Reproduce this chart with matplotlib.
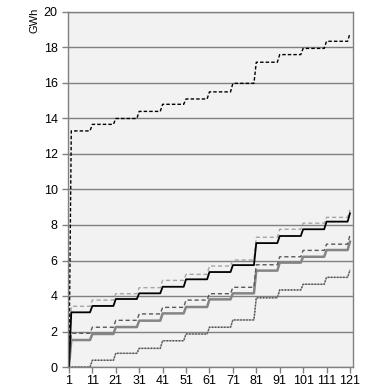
import numpy as np
import matplotlib
matplotlib.use('Agg')
import matplotlib.pyplot as plt

# step levels (value for days 2-10, 11-20, ..., 111-120, 121)
days = np.arange(1, 122)
top_dashed = [13.3, 13.67, 14.0, 14.4, 14.8, 15.1, 15.5, 15.98, 17.17, 17.6, 17.95, 18.35, 18.8]
black_solid = [3.08, 3.44, 3.83, 4.15, 4.52, 4.94, 5.35, 5.74, 6.98, 7.38, 7.76, 8.19, 8.66]
light_dashed = [3.42, 3.77, 4.13, 4.47, 4.88, 5.22, 5.69, 6.03, 7.31, 7.76, 8.1, 8.43, 8.85]
dark_dashed = [1.9, 2.24, 2.63, 2.99, 3.36, 3.77, 4.13, 4.49, 5.76, 6.21, 6.57, 6.92, 7.44]
gray_solid = [1.52, 1.86, 2.25, 2.61, 3.02, 3.38, 3.81, 4.15, 5.43, 5.88, 6.21, 6.59, 7.06]
dotted = [0.0, 0.38, 0.77, 1.05, 1.48, 1.86, 2.24, 2.65, 3.9, 4.34, 4.66, 5.05, 5.46]
light_solid = [0.0, 0.38, 0.77, 1.05, 1.48, 1.86, 2.24, 2.65, 3.9, 4.34, 4.66, 5.05, 5.46]

yticks = list(range(0, 21, 2))
xticks = list(range(1, 122, 10))


def expand(levels):
    # day 1 is zero, then each level holds for its block of days
    counts = [9] + [10] * 11 + [1]
    return np.concatenate([[0.0], np.repeat(levels, counts)])


plt.rcParams['font.family'] = ['Liberation Sans', 'DejaVu Sans']

fig = plt.figure(figsize=(3.78, 3.92), dpi=100)
ax = fig.add_axes([68 / 378, 1 - 367 / 392, (353 - 68) / 378, (367 - 12) / 392])
ax.set_facecolor('#f2f2f2')

ax.plot(days, expand(light_solid), color='#a6a6a6', lw=1.0)
ax.plot(days, expand(dotted), color='#4d4d4d', lw=1.0, ls=(0, (1, 1.2)))
ax.plot(days, expand(gray_solid), color='#858585', lw=1.8)
ax.plot(days, expand(dark_dashed), color='#595959', lw=1.0, ls=(0, (3, 2)))
ax.plot(days, expand(light_dashed), color='#a6a6a6', lw=1.0, ls=(0, (3, 2)))
ax.plot(days, expand(black_solid), color='black', lw=1.3)
ax.plot(days, expand(top_dashed), color='black', lw=1.0, ls=(0, (2.5, 1.5)))

ax.set_xlim(0.6, 122.3)
ax.set_ylim(0, 20)
ax.set_yticks(yticks)
ax.set_xticks(xticks)
ax.tick_params(axis='both', labelsize=9, color='#808080', length=4, width=1)
ax.tick_params(axis='x', pad=2)
ax.grid(axis='y', color='#808080', lw=1)
ax.set_axisbelow(True)
for s in ax.spines.values():
    s.set_color('#808080')
    s.set_linewidth(1)

fig.text(35 / 378, 1 - 20 / 392, 'GWh', rotation=90, fontsize=8, ha='center', va='center')

fig.savefig('out.png', dpi=100)
